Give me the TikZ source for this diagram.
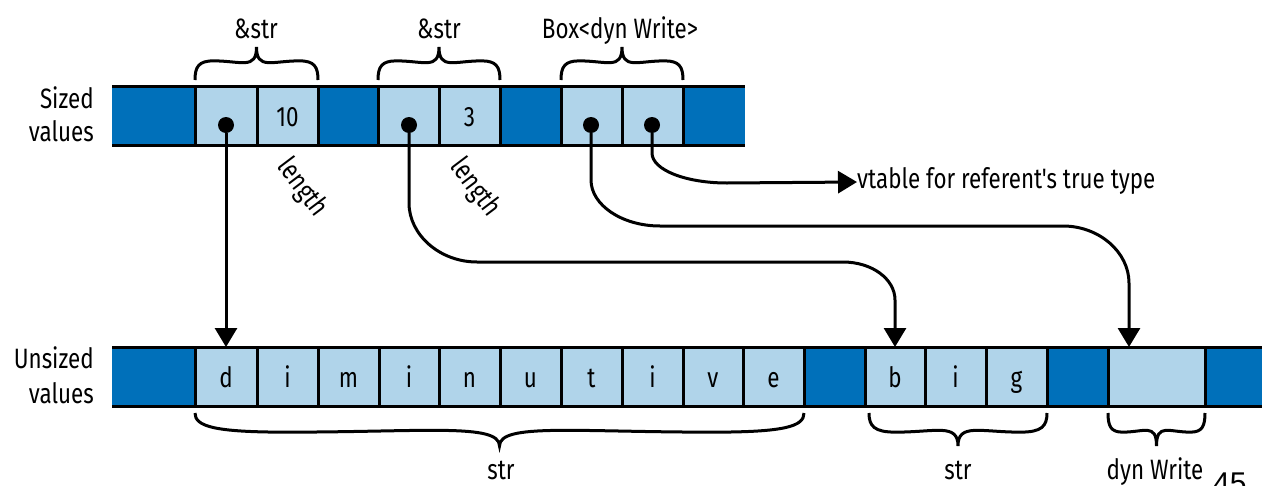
\documentclass[tikz,border=0pt]{standalone}
\usepackage{fontspec}
\setmainfont{Fira Sans}[FakeStretch=0.8, Ligatures=TeXOff]
\newfontfamily\pagefont{Liberation Sans}
\usetikzlibrary{arrows.meta}
\definecolor{dkblue}{RGB}{0,112,186}
\definecolor{ltblue}{RGB}{176,212,234}
\tikzset{
  cellbox/.style={minimum height=59pt, inner sep=0pt, outer sep=0pt, text height=21pt, text depth=0pt, font=\fontsize{28}{32}\selectfont},
  darkcell/.style={cellbox, fill=dkblue},
  lightcell/.style={cellbox, fill=ltblue},
  rowrule/.style={line width=3pt, black},
  ptr/.style={line width=3pt, -{Triangle[length=19pt,width=22pt]}},
  dotmark/.style={circle, fill=black, minimum size=16pt, inner sep=0pt},
  lbl/.style={font=\fontsize{28}{32}\selectfont, inner sep=0pt},
  bracepath/.style={line width=3pt},
}
\newcommand\cbrace[4]{%
  \pgfmathsetmacro\bxm{(#1+#2)/2}%
  \pgfmathsetmacro\bw{(#2-#1)/2}%
  \pgfmathsetmacro\ba{#4-#3}%
  \draw[bracepath] (#1,#3) .. controls (#1,#3+0.4*\ba) and (#1+0.06*\bw,#3+0.58*\ba) .. (#1+0.3*\bw,#3+0.58*\ba)
    .. controls (#1+0.75*\bw,#3+0.58*\ba) and (\bxm,#3+0.3*\ba) .. (\bxm,#4)
    .. controls (\bxm,#3+0.3*\ba) and (#2-0.75*\bw,#3+0.58*\ba) .. (#2-0.3*\bw,#3+0.58*\ba)
    .. controls (#2-0.06*\bw,#3+0.58*\ba) and (#2,#3+0.4*\ba) .. (#2,#3);%
}
\begin{document}
\begin{tikzpicture}[x=1pt, y=-1pt]
\clip (0,0) rectangle (1262,485);
\fill[white] (0,0) rectangle (1262,485);
% sized row
\foreach \nm/\xa/\xb/\st/\tx in {sA/112/195/darkcell/{}, s1/195/257/lightcell/{}, s2/257/318/lightcell/10,
  sB/318/378/darkcell/{}, s3/378/439/lightcell/{}, s4/439/500/lightcell/3, sC/500/561/darkcell/{},
  s5/561/622/lightcell/{}, s6/622/683/lightcell/{}, sD/683/745/darkcell/{}}{
  \pgfmathsetmacro\cw{\xb-\xa}
  \pgfmathsetmacro\cx{(\xa+\xb)/2}
  \node[\st, minimum width=\cw pt] (\nm) at (\cx,115.5) {\tx};
}
% unsized row
\foreach \nm/\xa/\xb/\st/\tx in {uA/112/195/darkcell/{}, u1/195/257/lightcell/d, u2/257/318/lightcell/i,
  u3/318/379/lightcell/m, u4/379/439/lightcell/i, u5/439/500/lightcell/n, u6/500/561/lightcell/u,
  u7/561/622/lightcell/t, u8/622/683/lightcell/i, u9/683/743/lightcell/v, u10/743/804/lightcell/e,
  uB/804/865/darkcell/{}, b1/865/925/lightcell/b, b2/925/986/lightcell/i, b3/986/1047/lightcell/g,
  uC/1047/1108/darkcell/{}, uw/1108/1205/lightcell/{}, uD/1205/1262/darkcell/{}}{
  \pgfmathsetmacro\cw{\xb-\xa}
  \pgfmathsetmacro\cx{(\xa+\xb)/2}
  \node[\st, minimum width=\cw pt] (\nm) at (\cx,376.5) {\tx};
}
% rules
\draw[rowrule] (sA.north west) -- (sD.north east);
\draw[rowrule] (sA.south west) -- (sD.south east);
\foreach \nm in {s1,s2,sB,s3,s4,sC,s5,s6,sD}{
  \draw[rowrule] (\nm.north west) -- (\nm.south west);
}
\draw[rowrule] (uA.north west) -- (uD.north east);
\draw[rowrule] (uA.south west) -- (uD.south east);
\foreach \nm in {u1,u2,u3,u4,u5,u6,u7,u8,u9,u10,uB,b1,b2,b3,uC,uw,uD}{
  \draw[rowrule] (\nm.north west) -- (\nm.south west);
}
% row labels
\node[lbl, anchor=base east] (lsz1) at (94,108) {Sized};
\node[lbl, anchor=base east] (lsz2) at (94,141) {values};
\node[lbl, anchor=base east] (lus1) at (94,368) {Unsized};
\node[lbl, anchor=base east] (lus2) at (94,403) {values};
% top braces
\cbrace{195}{318}{80}{47}
\cbrace{378}{500}{80}{47}
\cbrace{561}{683}{80}{47}
\node[lbl, anchor=base] (t1) at (256,38) {\&str};
\node[lbl, anchor=base] (t2) at (439,38) {\&str};
\node[lbl, anchor=base] (t3) at (620,38) {Box<dyn Write>};
% bottom braces
\cbrace{195}{804}{413}{446}
\cbrace{869}{1047}{413}{446}
\cbrace{1108}{1205}{413}{446}
\node[lbl, anchor=base] (bl1) at (501,479) {str};
\node[lbl, anchor=base] (bl2) at (958,479) {str};
\node[lbl, anchor=base] (bl3) at (1155,479) {dyn Write};
% length labels
\node[lbl, rotate=-53] (len1) at (302,188) {length};
\node[lbl, rotate=-53] (len2) at (475,188) {length};
% pointers
\node[dotmark] (p1) at (226,125) {};
\node[dotmark] (p2) at (409,125) {};
\node[dotmark] (p3) at (591,125) {};
\node[dotmark] (p4) at (652,125) {};
\node[lbl, anchor=west, text height=19pt, text depth=6pt] (vt) at (857,182) {vtable for referent's true type};
\coordinate (uwin) at (1129,347);
\draw[ptr] (p1) -- (u1.north);
\draw[ptr] (p2) -- (409,203) .. controls (409,235) and (440,262) .. (477,262) -- (843,262)
  .. controls (872,262) and (895,279) .. (895,300) -- (b1.north);
\draw[ptr] (p3) -- (591,180) .. controls (591,205) and (622,226) .. (660,226) -- (1063,226)
  .. controls (1099,226) and (1129,252) .. (1129,283) -- (uwin);
\draw[ptr] (p4) -- (652,153) .. controls (652,170) and (686,183) .. (727,183) -- (vt.west);
% page number
\node[anchor=base west, inner sep=0pt, font=\pagefont\fontsize{30}{34}\selectfont] (pg) at (1213,493) {45};
\end{tikzpicture}
\end{document}
